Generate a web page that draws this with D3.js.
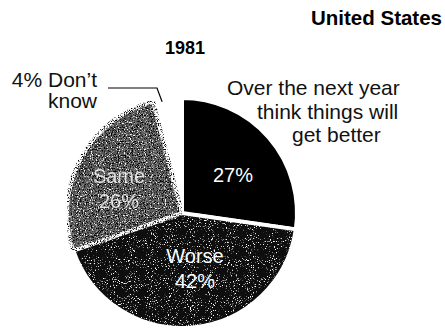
<!DOCTYPE html>
<html><head><meta charset="utf-8">
<script src="https://cdn.jsdelivr.net/npm/d3@7"></script>
<style>
html,body{margin:0;padding:0;background:#fff;}
svg{display:block;}
text{font-family:"Liberation Sans",Arial,sans-serif;}
</style></head>
<body>
<script>
const categories = ["Better", "Worse", "Same", "Don't know"];
const values = [27, 42, 26, 4];
const sliceLabels = ["27%", "Worse\n42%", "Same\n26%", ""];
const title = "United States";
const subtitle = "1981";
const betterLabel = ["Over the next year", "think things will", "get better"];
const dkLabel = ["4% Don\u2019t", "know"];

const W = 445, H = 328;
const cx = 182, cy = 213, R = 115;
const fills = {"Better":"#000", "Worse":"#0e0e0e", "Same":"#606060", "Don't know":"none"};
const filt = {"Worse":"url(#noiseDark)", "Same":"url(#noiseMid)"};

const svg = d3.select("body").append("svg").attr("width", W).attr("height", H);
const defs = svg.append("defs");
function noise(id, freq, wSlope, wInt, bSlope, bInt){
  const f = defs.append("filter").attr("id", id).attr("x","0").attr("y","0").attr("width","1").attr("height","1")
    .attr("color-interpolation-filters","sRGB");
  f.append("feTurbulence").attr("type","fractalNoise").attr("baseFrequency",freq).attr("numOctaves",3).attr("seed",3).attr("result","t1");
  f.append("feColorMatrix").attr("in","t1").attr("type","matrix")
   .attr("values",`0 0 0 0 1  0 0 0 0 1  0 0 0 0 1  ${wSlope} 0 0 0 ${wInt}`).attr("result","w");
  f.append("feTurbulence").attr("type","fractalNoise").attr("baseFrequency",freq).attr("numOctaves",3).attr("seed",11).attr("result","t2");
  f.append("feColorMatrix").attr("in","t2").attr("type","matrix")
   .attr("values",`0 0 0 0 0  0 0 0 0 0  0 0 0 0 0  ${bSlope} 0 0 0 ${bInt}`).attr("result","b");
  f.append("feMerge").attr("result","m").call(m=>{
    m.append("feMergeNode").attr("in","SourceGraphic");
    m.append("feMergeNode").attr("in","b");
    m.append("feMergeNode").attr("in","w");
  });
  f.append("feComposite").attr("in","m").attr("in2","SourceGraphic").attr("operator","in");
}
noise("noiseDark", 0.95, 7, -4.3, 0, 0);
noise("noiseMid", 0.85, 5, -2.8, 5, -2.4);

const pie = d3.pie().sort(null).value(d => d.v).startAngle(0).endAngle(2*Math.PI);
const data = pie(categories.map((c,i)=>({c, v:values[i], lab:sliceLabels[i]})));
const arc = d3.arc().innerRadius(0).outerRadius(R);
const g = svg.append("g").attr("transform", `translate(${cx},${cy})`);

g.selectAll("path.slice").data(data.filter(d=>fills[d.data.c]!=="none")).join("path")
  .attr("class","slice")
  .attr("d", arc)
  .attr("fill", d=>fills[d.data.c])
  .attr("filter", d=>filt[d.data.c]||null)
  .attr("stroke","#fff").attr("stroke-width",4).attr("stroke-linejoin","round");

const labPos = {"Better":[51,-31], "Worse":[13,50], "Same":[-63,-30]};
data.forEach(d=>{
  if(!d.data.lab) return;
  const p = labPos[d.data.c];
  const t = g.append("text").attr("x",p[0]).attr("y",p[1]).attr("text-anchor","middle")
    .attr("fill","#fff").attr("font-size",20)
    .attr("opacity", d.data.c==="Same" ? 0.8 : 1);
  d.data.lab.split("\n").forEach((s,i)=>t.append("tspan").attr("x",p[0]).attr("dy", i?25:0).text(s));
});

svg.append("text").attr("x",442).attr("y",25).attr("text-anchor","end")
  .attr("font-weight","bold").attr("font-size",20.5).text(title);
svg.append("text").attr("x",185).attr("y",54).attr("text-anchor","middle")
  .attr("font-weight","bold").attr("font-size",18).text(subtitle);

const blX = [227, 257, 292];
const bl = svg.append("text").attr("font-size",21).attr("fill","#111");
betterLabel.forEach((s,i)=>bl.append("tspan").attr("x",blX[i]).attr("y",95+i*23.5).text(s));
const dl = svg.append("text").attr("text-anchor","end").attr("font-size",21).attr("fill","#111");
dkLabel.forEach((s,i)=>dl.append("tspan").attr("x",97).attr("y",87+i*21).text(s));

const dk = data[3];
const mid = (dk.startAngle+dk.endAngle)/2;
const tip = [cx + (R-2)*Math.sin(mid-0.05), cy - (R-2)*Math.cos(mid-0.05)];
svg.append("path").attr("d", `M108,88 H157 L${tip[0]},${tip[1]}`)
  .attr("fill","none").attr("stroke","#000").attr("stroke-width",1.2);
</script>
</body></html>
